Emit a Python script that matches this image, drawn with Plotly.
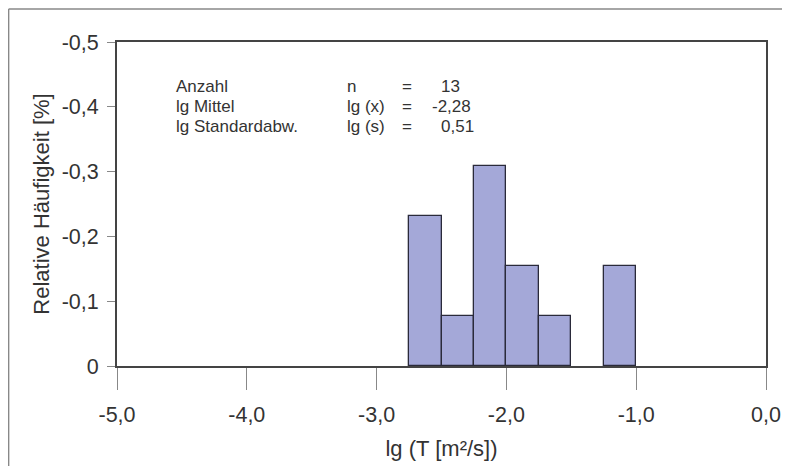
import plotly.graph_objects as go

# Histogram bins (left edges) and relative frequencies
bin_left = [-2.75, -2.5, -2.25, -2.0, -1.75, -1.25]
bin_width = 0.25
rel_freq = [0.231, 0.077, 0.308, 0.154, 0.077, 0.154]

x_ticks = [-5, -4, -3, -2, -1, 0]
x_tick_text = ["-5,0", "-4,0", "-3,0", "-2,0", "-1,0", "0,0"]
y_ticks = [0, 0.1, 0.2, 0.3, 0.4, 0.5]
y_tick_text = ["0", "-0,1", "-0,2", "-0,3", "-0,4", "-0,5"]

stat_labels = ["Anzahl", "lg Mittel", "lg Standardabw."]
stat_symbols = ["n", "lg (x)", "lg (s)"]
stat_values = ["13", "-2,28", "0,51"]

FONT = "Liberation Sans, Arial, sans-serif"
TXT = "#333333"

fig = go.Figure()
fig.add_trace(go.Bar(
    x=[b + bin_width / 2 for b in bin_left],
    y=rel_freq,
    width=bin_width,
    marker=dict(color="#a4a8d8", line=dict(color="#2a2a3a", width=1.3)),
    showlegend=False,
))

# page body has an 8px margin -> compensate
fig.update_layout(
    width=780, height=458,
    margin=dict(l=109, r=22, t=34, b=100),
    paper_bgcolor="white", plot_bgcolor="white",
    font=dict(family=FONT, color=TXT),
    bargap=0,
)
fig.update_xaxes(
    range=[-5, 0], tickvals=x_ticks, ticktext=x_tick_text,
    ticks="outside", ticklen=22, tickwidth=1, tickcolor="#888888",
    tickfont=dict(size=21.5, family=FONT, color=TXT),
    ticklabelstandoff=6, automargin=False,
    showline=True, linecolor="#444444", linewidth=2, mirror=True,
    showgrid=False, zeroline=False,
    title=dict(text="lg (T [m²/s])", font=dict(size=22, family=FONT, color=TXT), standoff=15),
)
fig.update_yaxes(
    range=[0, 0.5], tickvals=y_ticks, ticktext=y_tick_text,
    ticks="outside", ticklen=8, tickwidth=1, tickcolor="#888888",
    tickfont=dict(size=21.5, family=FONT, color=TXT),
    ticklabelstandoff=4, automargin=False,
    showline=True, linecolor="#444444", linewidth=2, mirror=True,
    showgrid=False, zeroline=False,
    title=dict(text="Relative Häufigkeit [%]", font=dict(size=22, family=FONT, color=TXT), standoff=6),
)

row_y = [0.432, 0.400, 0.369]
for i in range(3):
    fig.add_annotation(x=-4.561, y=row_y[i], xref="x", yref="y", text=stat_labels[i],
                       showarrow=False, xanchor="left", font=dict(size=17, family=FONT, color=TXT))
    fig.add_annotation(x=-3.243, y=row_y[i], xref="x", yref="y", text=stat_symbols[i],
                       showarrow=False, xanchor="left", font=dict(size=17, family=FONT, color=TXT))
    fig.add_annotation(x=-2.820, y=row_y[i], xref="x", yref="y", text="=",
                       showarrow=False, xanchor="left", font=dict(size=17, family=FONT, color=TXT))
val_x = [-2.519, -2.589, -2.519]
for i in range(3):
    fig.add_annotation(x=val_x[i], y=row_y[i], xref="x", yref="y", text=stat_values[i],
                       showarrow=False, xanchor="left", font=dict(size=17, family=FONT, color=TXT))

# Outer frame (top and left edges visible)
fig.add_shape(type="line", xref="paper", yref="paper", x0=-0.167, x1=1.05, y0=1.1019, y1=1.1019,
              line=dict(color="#888888", width=1.5))
fig.add_shape(type="line", xref="paper", yref="paper", x0=-0.167, x1=-0.167, y0=1.1019, y1=-0.35,
              line=dict(color="#888888", width=1.5))

fig.write_html("out.html")
